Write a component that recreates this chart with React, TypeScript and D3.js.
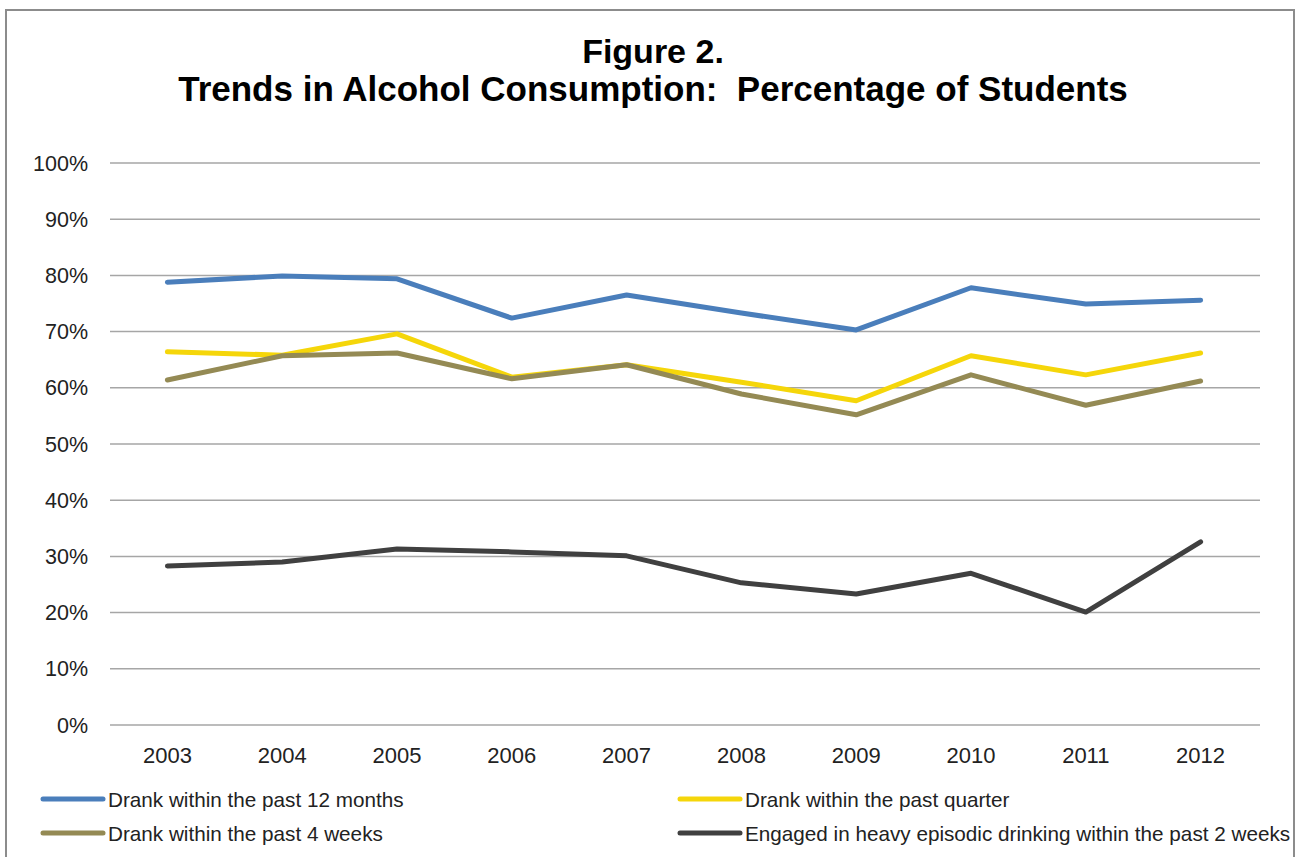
import React from "react";
import * as d3 from "d3";

const years = ["2003", "2004", "2005", "2006", "2007", "2008", "2009", "2010", "2011", "2012"];
const past12Months = [78.8, 79.9, 79.4, 72.4, 76.5, 73.3, 70.3, 77.8, 74.9, 75.6];
const pastQuarter = [66.4, 65.8, 69.6, 61.9, 64.1, 61.0, 57.7, 65.7, 62.3, 66.2];
const past4Weeks = [61.4, 65.7, 66.2, 61.6, 64.1, 58.9, 55.2, 62.3, 56.9, 61.2];
const heavyEpisodic = [28.3, 29.0, 31.3, 30.8, 30.1, 25.3, 23.3, 27.0, 20.1, 32.6];
const yTicks = [0, 10, 20, 30, 40, 50, 60, 70, 80, 90, 100];

const seriesNames = [
  "Drank within the past 12 months",
  "Drank within the past quarter",
  "Drank within the past 4 weeks",
  "Engaged in heavy episodic drinking within the past 2 weeks",
];
const seriesColors = ["#4A7EBB", "#F5D60A", "#948A54", "#404040"];
const seriesValues = [past12Months, pastQuarter, past4Weeks, heavyEpisodic];

export default function App() {
  const W = 1297;
  const H = 857;
  const x = d3.scaleBand<string>().domain(years).range([110, 1258]).padding(0);
  const y = d3.scaleLinear().domain([0, 100]).range([725, 163]);
  const cx = (yr: string) => (x(yr) as number) + x.bandwidth() / 2;
  const line = d3
    .line<number>()
    .x((_, i) => cx(years[i]))
    .y((v) => y(v));

  const legendPos = [
    { lx: 43, ly: 799 },
    { lx: 680, ly: 799 },
    { lx: 43, ly: 833 },
    { lx: 680, ly: 833 },
  ];

  const font = "Arial, 'Liberation Sans', sans-serif";

  return (
    <svg
      width={W}
      height={H}
      style={{ position: "absolute", left: 0, top: 0, background: "#fff" }}
      fontFamily={font}
    >
      <rect x={0} y={0} width={W} height={H} fill="#fff" />
      <rect x={6} y={10} width={1288} height={H + 20} fill="none" stroke="#8c8c8c" strokeWidth={2} />
      <text x={653} y={63} textAnchor="middle" fontSize={34} fontWeight="bold" fill="#000">
        Figure 2.
      </text>
      <text x={653} y={101} textAnchor="middle" fontSize={35} fontWeight="bold" fill="#000" style={{ whiteSpace: "pre" }}>
        {"Trends in Alcohol Consumption:  Percentage of Students"}
      </text>

      {yTicks.map((t) => (
        <g key={t}>
          <line x1={110} x2={1260} y1={y(t)} y2={y(t)} stroke="#a6a6a6" strokeWidth={1.5} />
          <text x={88} y={y(t) + 7.5} textAnchor="end" fontSize={21.5} fill="#222">
            {t}%
          </text>
        </g>
      ))}

      {years.map((yr) => (
        <text key={yr} x={cx(yr)} y={763} textAnchor="middle" fontSize={22} fill="#222">
          {yr}
        </text>
      ))}

      {seriesValues.map((vals, i) => (
        <path
          key={i}
          d={line(vals) || ""}
          fill="none"
          stroke={seriesColors[i]}
          strokeWidth={5}
          strokeLinejoin="round"
          strokeLinecap="round"
        />
      ))}

      {seriesNames.map((name, i) => (
        <g key={name}>
          <line
            x1={legendPos[i].lx}
            x2={legendPos[i].lx + 60}
            y1={legendPos[i].ly}
            y2={legendPos[i].ly}
            stroke={seriesColors[i]}
            strokeWidth={5}
            strokeLinecap="round"
          />
          <text x={legendPos[i].lx + 65} y={legendPos[i].ly + 8} fontSize={20.7} fill="#222">
            {name}
          </text>
        </g>
      ))}
    </svg>
  );
}
